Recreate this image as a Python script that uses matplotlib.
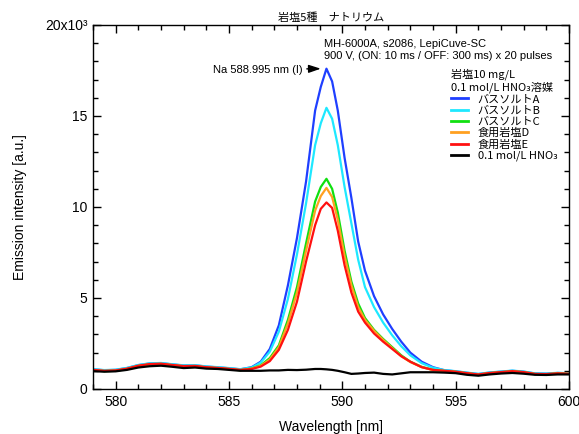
import matplotlib
matplotlib.use('Agg')
import matplotlib.pyplot as plt
import matplotlib.ticker as mticker
from matplotlib.font_manager import FontProperties

plt.rcParams['font.family'] = ['Liberation Sans', 'DejaVu Sans']

# wavelength grid [nm] and intensities
wl = [579.0, 579.5, 580.0, 580.5, 581.0, 581.5, 582.0, 582.5, 583.0, 583.5,
      584.0, 584.5, 585.0, 585.5, 586.0,
      586.4, 586.8, 587.2, 587.6, 588.0, 588.4, 588.8, 589.05, 589.3, 589.55,
      589.8, 590.1, 590.4, 590.7, 591.0, 591.4, 591.8, 592.2, 592.6, 593.0,
      593.5, 594.0,
      594.5, 595.0, 595.5, 596.0, 596.5, 597.0, 597.5, 598.0, 598.5, 599.0,
      599.5, 600.0]

salt_a = [1080, 1030, 1050, 1150, 1310, 1400, 1420, 1350, 1290, 1300,
          1230, 1190, 1140, 1080, 1200,
          1500, 2200, 3500, 5700, 8300, 11400, 15300, 16600, 17600, 16900,
          15300, 12700, 10500, 8100, 6500, 5100, 4100, 3300, 2600, 2000,
          1500, 1200,
          1030, 970, 890, 820, 900, 950, 1000, 950, 850, 840, 880, 860]
salt_b = [1090, 1040, 1060, 1160, 1320, 1410, 1430, 1360, 1300, 1310,
          1240, 1200, 1150, 1090, 1180,
          1450, 2050, 3150, 4950, 7400, 10200, 13400, 14600, 15450, 14850,
          13400, 11100, 9100, 7100, 5600, 4500, 3650, 2950, 2350, 1850,
          1420, 1170,
          1040, 980, 900, 830, 910, 960, 1010, 960, 860, 850, 890, 870]
salt_c = [1030, 980, 1000, 1100, 1260, 1350, 1370, 1300, 1240, 1250,
          1180, 1140, 1090, 1030, 1130,
          1300, 1700, 2400, 3800, 5600, 8000, 10300, 11100, 11550, 11000,
          9700, 7600, 5900, 4700, 3900, 3250, 2750, 2300, 1850, 1500,
          1220, 1050,
          990, 940, 860, 790, 870, 920, 970, 920, 820, 810, 850, 830]
salt_d = [1040, 990, 1010, 1110, 1270, 1360, 1380, 1310, 1250, 1260,
          1190, 1150, 1100, 1040, 1120,
          1270, 1620, 2300, 3600, 5300, 7600, 9800, 10600, 11050, 10550,
          9300, 7300, 5700, 4500, 3800, 3200, 2700, 2250, 1800, 1480,
          1200, 1040,
          990, 940, 860, 790, 870, 920, 970, 920, 820, 810, 850, 830]
salt_e = [1050, 1000, 1020, 1120, 1280, 1370, 1390, 1320, 1260, 1270,
          1200, 1160, 1110, 1050, 1100,
          1230, 1530, 2150, 3250, 4800, 7000, 9000, 9900, 10250, 9950,
          8700, 6800, 5300, 4250, 3650, 3050, 2600, 2200, 1800, 1500,
          1200, 1050,
          1000, 950, 870, 800, 880, 930, 980, 930, 830, 820, 860, 840]
blank = [980, 950, 970, 1050, 1180, 1250, 1280, 1220, 1150, 1180,
         1120, 1100, 1050, 1000, 1000,
         1000, 1020, 1020, 1050, 1040, 1060, 1100, 1100, 1080, 1050,
         1000, 920, 830, 850, 880, 900, 830, 800, 860, 920,
         920, 920,
         900, 870, 780, 730, 800, 850, 880, 840, 780, 770, 800, 800]

labels = ['バスソルトA', 'バスソルトB', 'バスソルトC', '食用岩塩D', '食用岩塩E',
          '0.1 mol/L HNO\u2083']
colors = ['#1f3fff', '#1ee8ff', '#10e010', '#ffa020', '#ff1010', 'black']
series = [salt_a, salt_b, salt_c, salt_d, salt_e, blank]

fig = plt.figure(figsize=(5.79, 4.34), dpi=100)
ax = fig.add_axes([0.1606, 0.1037, 0.8221, 0.8387])

for ys, c, lab in zip(series, colors, labels):
    ax.plot(wl, ys, color=c, lw=1.6, label=lab)

ax.set_xlim(579, 600)
ax.set_ylim(0, 20000)
ax.xaxis.set_major_locator(mticker.MultipleLocator(5))
ax.xaxis.set_minor_locator(mticker.MultipleLocator(1))
ax.yaxis.set_major_locator(mticker.MultipleLocator(5000))
ax.yaxis.set_minor_locator(mticker.MultipleLocator(1000))

def yfmt(v, pos):
    if abs(v - 20000) < 1:
        return '20x10\u00b3'
    return '%d' % round(v / 1000)

ax.yaxis.set_major_formatter(mticker.FuncFormatter(yfmt))
ax.tick_params(which='both', direction='in', top=True, right=True,
               labelsize=10, width=1.0)
ax.tick_params(which='major', length=6, pad=4)
ax.tick_params(which='minor', length=3.3)
for s in ax.spines.values():
    s.set_linewidth(1.0)

ax.set_xlabel('Wavelength [nm]', fontsize=10)
ax.set_ylabel('Emission intensity [a.u.]', fontsize=10)
ax.xaxis.set_label_coords(0.5, -0.085)
ax.yaxis.set_label_coords(-0.138, 0.5)

cjk = ['Noto Sans CJK JP', 'DejaVu Sans']
ax.set_title('岩塩5種\u3000ナトリウム', fontsize=8, family=cjk, pad=3)

ax.text(0.485, 0.962, 'MH-6000A, s2086, LepiCuve-SC\n'
        '900 V, (ON: 10 ms / OFF: 300 ms) x 20 pulses',
        transform=ax.transAxes, fontsize=8, va='top', ha='left',
        linespacing=1.25)

ax.annotate('Na 588.995 nm (I)', xy=(589.05, 17600), xytext=(588.25, 17550),
            fontsize=8, ha='right', va='center',
            arrowprops=dict(arrowstyle='-|>,head_length=0.9,head_width=0.3',
                            color='black', lw=1.0, shrinkA=1, shrinkB=0))

fp = FontProperties(family=cjk, size=8)
leg = ax.legend(loc='upper left', bbox_to_anchor=(0.752, 0.881),
                frameon=False, prop=fp, title='岩塩10 mg/L\n0.1 mol/L HNO\u2083溶媒',
                title_fontproperties=fp, alignment='left', handlelength=1.5,
                handletextpad=0.9, labelspacing=0.1, borderpad=0,
                borderaxespad=0)
for h in leg.get_lines():
    h.set_linewidth(2.0)

fig.savefig('out.png', dpi=100)
